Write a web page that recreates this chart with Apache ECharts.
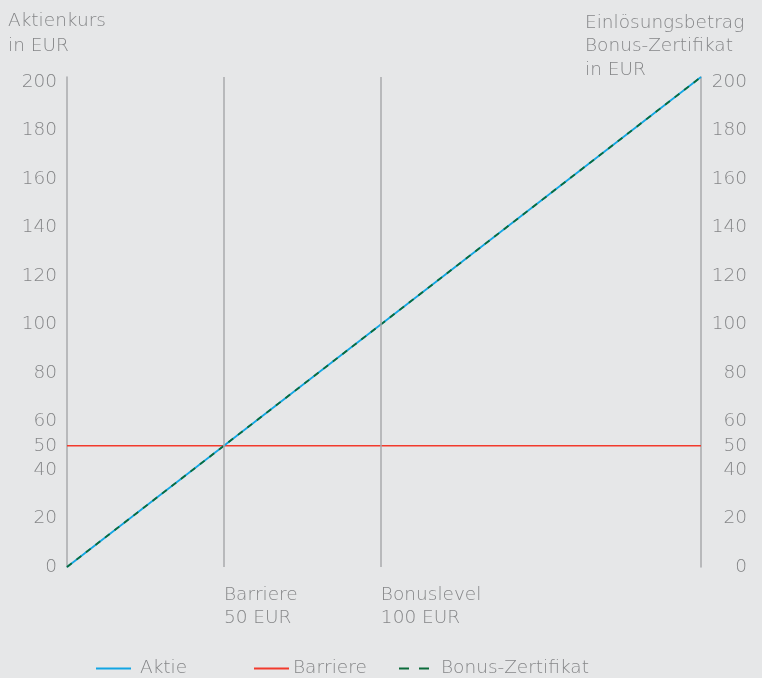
<!DOCTYPE html>
<html>
<head>
<meta charset="utf-8">
<script src="https://cdn.jsdelivr.net/npm/echarts@6/dist/echarts.min.js"></script>
<style>
  html, body { margin: 0; padding: 0; background: #e6e7e8; }
  #chart { width: 762px; height: 678px; }
</style>
</head>
<body>
<div id="chart"></div>
<script>
// Price range shown on both axes (EUR)
const axisMax = 202;
const yTicks = [0, 20, 40, 50, 60, 80, 100, 120, 140, 160, 180, 200];
const xMarks = [50, 100];
const xMarkLabels = ['Barriere\n50 EUR', 'Bonuslevel\n100 EUR'];

// Series
const aktie = [[0, 0], [202, 202]];
const barriere = [[0, 50], [202, 50]];
const bonusZertifikat = [[0, 0], [202, 202]];

const textColor = '#858688';
const gridColor = '#a9aaac';
const fontFamily = 'DejaVu Sans, sans-serif';
const fontWeight = 200;
const fontSize = 18.5;

const chart = echarts.init(document.getElementById('chart'));

const yAxisBase = {
  type: 'value',
  min: 0,
  max: axisMax,
  splitLine: { show: false },
  axisTick: { show: false },
  axisLine: { show: true, lineStyle: { color: gridColor, width: 1.5 } }
};

const labelFont = { color: textColor, fontSize: fontSize, fontFamily: fontFamily, fontWeight: fontWeight };

// One legend block per entry so each can sit at its own spot
const legendEntries = [
  { name: 'Aktie', left: 90, width: 35, pad: 4, line: { type: 'solid' } },
  { name: 'Barriere', left: 248, width: 35, pad: -1, line: { type: 'solid' } },
  { name: 'Bonus-Zertifikat', left: 393, width: 30, pad: 7, line: { type: [10, 10] } }
];

chart.setOption({
  backgroundColor: '#e6e7e8',
  animation: false,
  textStyle: { fontFamily: fontFamily },
  grid: { left: 67, right: 61, top: 77, bottom: 111 },
  xAxis: {
    type: 'value',
    min: 0,
    max: axisMax,
    axisLine: { show: false },
    axisTick: { show: false },
    splitLine: { show: false },
    axisLabel: Object.assign({
      customValues: xMarks,
      formatter: v => xMarkLabels[xMarks.indexOf(v)] || '',
      align: 'left',
      verticalAlign: 'top',
      margin: 17,
      lineHeight: 23
    }, labelFont)
  },
  yAxis: [
    Object.assign({}, yAxisBase, {
      position: 'left',
      axisLabel: Object.assign({ customValues: yTicks, margin: 10 }, labelFont)
    }),
    Object.assign({}, yAxisBase, {
      position: 'right',
      axisLabel: Object.assign({ customValues: yTicks, margin: 46, align: 'right' }, labelFont)
    })
  ],
  graphic: [
    {
      type: 'text', left: 8, top: 9,
      style: { text: 'Aktienkurs\nin EUR', lineHeight: 24.5, fill: textColor, font: fontWeight + ' ' + fontSize + 'px ' + fontFamily }
    },
    {
      type: 'text', left: 585, top: 11,
      style: { text: 'Einlösungsbetrag\nBonus-Zertifikat\nin EUR', lineHeight: 23.5, fill: textColor, font: fontWeight + ' ' + fontSize + 'px ' + fontFamily }
    }
  ],
  legend: legendEntries.map(e => ({
    data: [e.name],
    left: e.left,
    top: 654,
    itemWidth: e.width,
    itemHeight: 14,
    itemGap: 0,
    itemStyle: { opacity: 0 },
    lineStyle: Object.assign({ width: 2 }, e.line),
    textStyle: Object.assign({ padding: [0, 0, 0, e.pad] }, labelFont)
  })),
  series: [
    {
      name: 'Aktie',
      type: 'line',
      data: aktie,
      symbol: 'none',
      lineStyle: { color: '#12a5e3', width: 1.8 },
      itemStyle: { color: '#12a5e3' },
      markLine: {
        silent: true,
        symbol: 'none',
        label: { show: false },
        lineStyle: { color: gridColor, width: 1.5, type: 'solid' },
        data: xMarks.map(v => ({ xAxis: v }))
      },
      z: 3
    },
    {
      name: 'Barriere',
      type: 'line',
      data: barriere,
      symbol: 'none',
      lineStyle: { color: '#f23a2c', width: 1.5 },
      itemStyle: { color: '#f0493c' },
      z: 2
    },
    {
      name: 'Bonus-Zertifikat',
      type: 'line',
      data: bonusZertifikat,
      symbol: 'none',
      lineStyle: { color: '#0b6b3a', width: 1.8, type: [6, 6] },
      itemStyle: { color: '#2e8b57' },
      z: 4
    }
  ]
});
</script>
</body>
</html>
